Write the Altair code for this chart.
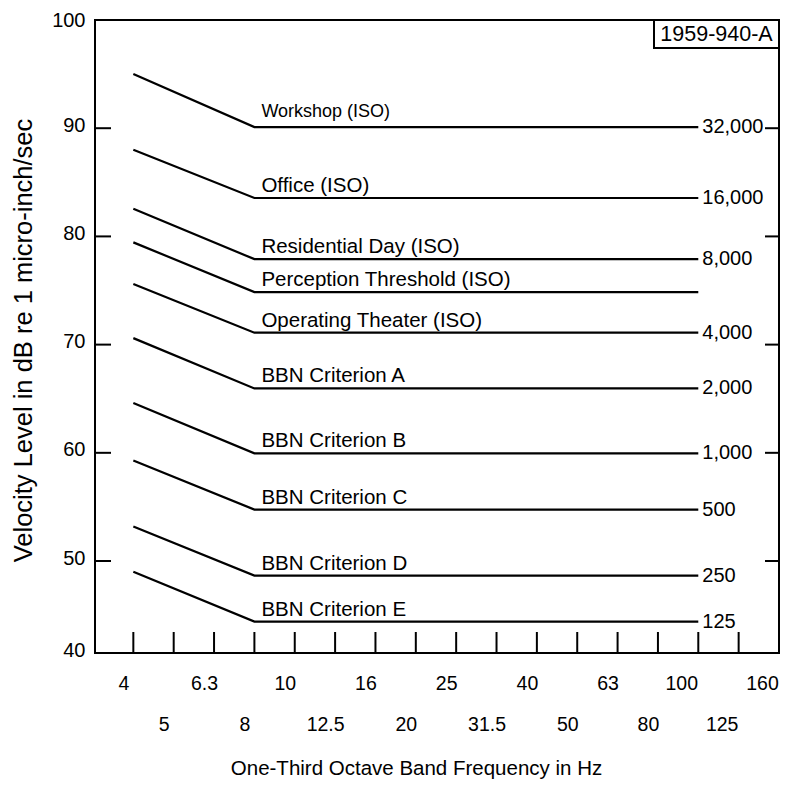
import altair as alt
import pandas as pd

FONT = "Liberation Sans"

# ---- data ----
series_names = [
    "Workshop (ISO)", "Office (ISO)", "Residential Day (ISO)",
    "Perception Threshold (ISO)", "Operating Theater (ISO)",
    "BBN Criterion A", "BBN Criterion B", "BBN Criterion C",
    "BBN Criterion D", "BBN Criterion E",
]
start_levels = [95.0, 88.0, 82.55, 79.45, 75.6, 70.6, 64.6, 59.3, 53.2, 49.0]   # at 4 Hz
flat_levels = [90.1, 83.55, 77.9, 74.85, 71.1, 65.95, 59.95, 54.75, 48.65, 44.4]  # 8 Hz .. 100 Hz
end_labels = ["32,000", "16,000", "8,000", "", "4,000", "2,000", "1,000", "500", "250", "125"]
band_labels = ["4", "5", "6.3", "8", "10", "12.5", "16", "20", "25", "31.5",
               "40", "50", "63", "80", "100", "125", "160"]
start_band = 0   # 4 Hz
knee_band = 3    # 8 Hz
end_band = 14    # 100 Hz
y_label_values = [41.5, 50, 60, 70, 80, 90, 100]
y_tick_values = [50, 60, 70, 80, 90]
x_tick_bands = list(range(16))
figure_id = "1959-940-A"

W, H = 684, 633

rows = []
for name, s, f in zip(series_names, start_levels, flat_levels):
    rows.append({"series": name, "band": start_band, "level": s})
    rows.append({"series": name, "band": knee_band, "level": f})
    rows.append({"series": name, "band": end_band, "level": f})
lines_df = pd.DataFrame(rows)

names_df = pd.DataFrame({"series": series_names, "level": flat_levels,
                         "band": [knee_band] * len(series_names)})
ends_df = pd.DataFrame({"label": end_labels, "level": flat_levels,
                        "band": [end_band] * len(end_labels)})
ends_df = ends_df[ends_df["label"] != ""]
yticks_df = pd.DataFrame({"level": y_tick_values})
xticks_df = pd.DataFrame({"band": x_tick_bands})
box_df = pd.DataFrame({"txt": [figure_id]})

x_scale = alt.Scale(domain=[-0.95, 16], nice=False, zero=False)
y_scale = alt.Scale(domain=[41.5, 100], nice=False, zero=False)

arr = "[" + ",".join("'" + s + "'" for s in band_labels) + "]"
x_label_expr = ("(datum.value % 2 == 0) ? [" + arr + "[datum.value], ''] : ['', "
                + arr + "[datum.value]]")

x_axis = alt.Axis(
    values=list(range(17)), labelExpr=x_label_expr, ticks=False, tickSize=0,
    domain=False, grid=False, labelOverlap=False, labelFlush=False,
    labelOffset={"condition": {"test": "datum.value >= 14", "value": -17}, "value": -10},
    labelPadding=21, labelLineHeight=41, labelBaseline="top",
    labelFontSize=19.5, labelFont=FONT, labelColor="black",
    title="One-Third Octave Band Frequency in Hz", titleFontSize=20.5,
    titleFont=FONT, titleFontWeight="normal", titleColor="black",
    titleX=321, titleY=121, titleBaseline="alphabetic", titleAlign="center",
)
y_axis = alt.Axis(
    values=y_label_values, labelExpr="datum.value < 45 ? '40' : datum.label",
    ticks=False, tickSize=0, domain=False, grid=False, labelOverlap=False,
    labelFlush=False, labelPadding=10,
    labelOffset={"condition": {"test": "datum.value >= 100", "value": 0}, "value": -3},
    labelFontSize=20, labelFont=FONT, labelColor="black",
    title="Velocity Level in dB re 1 micro-inch/sec", titleFontSize=25.5,
    titleFont=FONT, titleFontWeight="normal", titleColor="black",
    titleX=-64, titleY=320, titleBaseline="alphabetic", titleAlign="center",
)

def X(field):
    return alt.X(field, type="quantitative", scale=x_scale, axis=x_axis)

def Y(field):
    return alt.Y(field, type="quantitative", scale=y_scale, axis=y_axis)

lines = alt.Chart(lines_df).mark_line(color="black", strokeWidth=2.2).encode(
    x=X("band"), y=Y("level"), detail="series:N", order="band:Q")

left_ticks = alt.Chart(yticks_df).mark_rule(color="black", strokeWidth=2).encode(
    y=Y("level"), x=alt.value(0), x2=alt.value(16))
right_ticks = alt.Chart(yticks_df).mark_rule(color="black", strokeWidth=2).encode(
    y=Y("level"), x=alt.value(W - 14), x2=alt.value(W))
bottom_ticks = alt.Chart(xticks_df).mark_rule(color="black", strokeWidth=2).encode(
    x=X("band"), y=alt.value(H - 21), y2=alt.value(H))

name_main = alt.Chart(names_df[names_df["series"] != series_names[0]]).mark_text(
    align="left", baseline="alphabetic", dx=7, dy=-6, font=FONT, fontSize=20.5,
    color="black").encode(x=X("band"), y=Y("level"), text="series:N")
name_top = alt.Chart(names_df[names_df["series"] == series_names[0]]).mark_text(
    align="left", baseline="alphabetic", dx=7, dy=-10, font=FONT, fontSize=18,
    color="black").encode(x=X("band"), y=Y("level"), text="series:N")

end_text = alt.Chart(ends_df).mark_text(
    align="left", baseline="middle", dx=4, font=FONT, fontSize=20,
    color="black").encode(x=X("band"), y=Y("level"), text="label:N")

box = alt.Chart(box_df).mark_rect(fill="white", stroke="black", strokeWidth=2).encode(
    x=alt.value(W - 125), x2=alt.value(W), y=alt.value(0), y2=alt.value(28))
box_text = alt.Chart(box_df).mark_text(
    align="center", baseline="middle", font=FONT, fontSize=21.5, color="black").encode(
    x=alt.value(W - 62.5), y=alt.value(14.5), text="txt:N")

chart = alt.layer(
    lines, left_ticks, right_ticks, bottom_ticks, name_main, name_top,
    end_text, box, box_text,
).properties(
    width=W, height=H,
    autosize=alt.AutoSizeParams(type="none"),
    padding={"left": 87, "top": 12, "right": 3, "bottom": 126},
).configure_view(stroke="black", strokeWidth=2)

chart.save("out.html", embed_options={"renderer": "svg", "actions": False})
